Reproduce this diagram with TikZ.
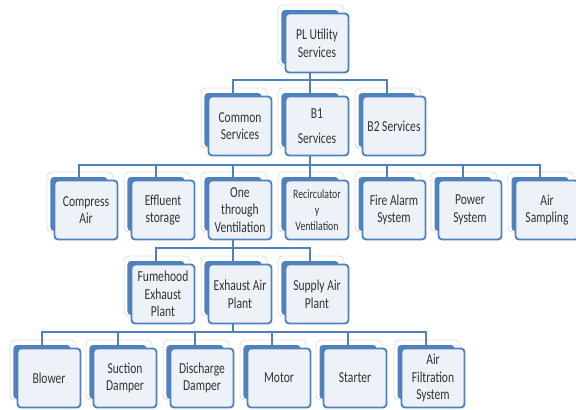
\documentclass[tikz,border=0pt]{standalone}
\usepackage{fontspec}
\setmainfont{Carlito}[FakeStretch=0.76]
\usetikzlibrary{calc}

\definecolor{plblue}{HTML}{4F81BD}
\definecolor{plfill}{HTML}{EDF2F9}

% glow, blue back plate and front box of one unit
\newcommand{\plbox}[5][]{%
	\node[glow] at (#3+1,#4-2) {};
	\node[back] (#2-b) at (#3,#4) {};
	\node[front,#1] (#2) at (#3+7,#4+6) {#5};
}

\begin{document}
\begin{tikzpicture}[x=0.03cm,y=-0.03cm]
	\path [use as bounding box] (0,0) rectangle (576,409);
	\tikzstyle{glow} = [draw=black!12, fill=white, rounded corners=4pt, line width=0.8pt, inner sep=0pt, minimum width=1.98cm, minimum height=1.8cm]
	\tikzstyle{back} = [fill=plblue, rounded corners=3pt, inner sep=0pt, minimum width=1.71cm, minimum height=1.62cm]
	\tikzstyle{front} = [draw=plblue, fill=plfill, line width=1.6pt, rounded corners=3pt, inner sep=1pt, minimum width=1.89cm, minimum height=1.77cm, align=center, text=black!80, font=\fontsize{13}{15}\selectfont]
	\tikzstyle{link} = [draw=plblue, line width=2.4pt]

	\plbox{A}{310}{37}{PL Utility\\Services}

	\plbox{B}{233}{120}{Common\\Services}
	\plbox{C}{310}{120}{B1\\[6pt]Services}
	\plbox{D}{387}{120}{B2 Services}

	\plbox{E}{79}{204}{Compress\\Air}
	\plbox{F}{156}{204}{Effluent\\storage}
	\plbox{G}{233}{204}{One\\through\\Ventilation}
	\plbox[font=\fontsize{11}{14}\selectfont]{H}{310}{204}{Recirculator\\y\\Ventilation}
	\plbox{I}{387}{204}{Fire Alarm\\System}
	\plbox{J}{463}{204}{Power\\System}
	\plbox{K}{540}{204}{Air\\Sampling}

	\plbox{L}{156}{288}{Fumehood\\Exhaust\\Plant}
	\plbox{M}{233}{288}{Exhaust Air\\Plant}
	\plbox{N}{310}{288}{Supply Air\\Plant}

	\plbox{O}{42}{372}{Blower}
	\plbox{P}{118}{372}{Suction\\Damper}
	\plbox{Q}{195}{372}{Discharge\\Damper}
	\plbox{R}{272}{372}{Motor}
	\plbox{S}{348}{372}{Starter}
	\plbox{T}{426}{372}{Air\\Filtration\\System}

	\coordinate (bar1) at (0,80);
	\coordinate (bar2) at (0,165);
	\coordinate (bar3) at (0,248);
	\coordinate (bar4) at (0,332);

	\draw[link] (A-b |- A.south) -- (A-b |- bar1);
	\draw[link] (B-b.north) |- (D-b |- bar1) -- (D-b.north);
	\draw[link] (C-b.north) -- (C-b |- bar1);

	\draw[link] (C-b |- C.south) -- (C-b |- bar2);
	\draw[link] (E-b.north) |- (K-b |- bar2) -- (K-b.north);
	\foreach \n in {F,G,H,I,J}
		\draw[link] (\n-b.north) -- (\n-b |- bar2);

	\draw[link] (G-b |- G.south) -- (G-b |- bar3);
	\draw[link] (L-b.north) |- (N-b |- bar3) -- (N-b.north);
	\draw[link] (M-b.north) -- (M-b |- bar3);

	\draw[link] (M-b |- M.south) -- (M-b |- bar4);
	\draw[link] (O-b.north) |- (T-b |- bar4) -- (T-b.north);
	\foreach \n in {P,Q,R,S}
		\draw[link] (\n-b.north) -- (\n-b |- bar4);
\end{tikzpicture}
\end{document}
